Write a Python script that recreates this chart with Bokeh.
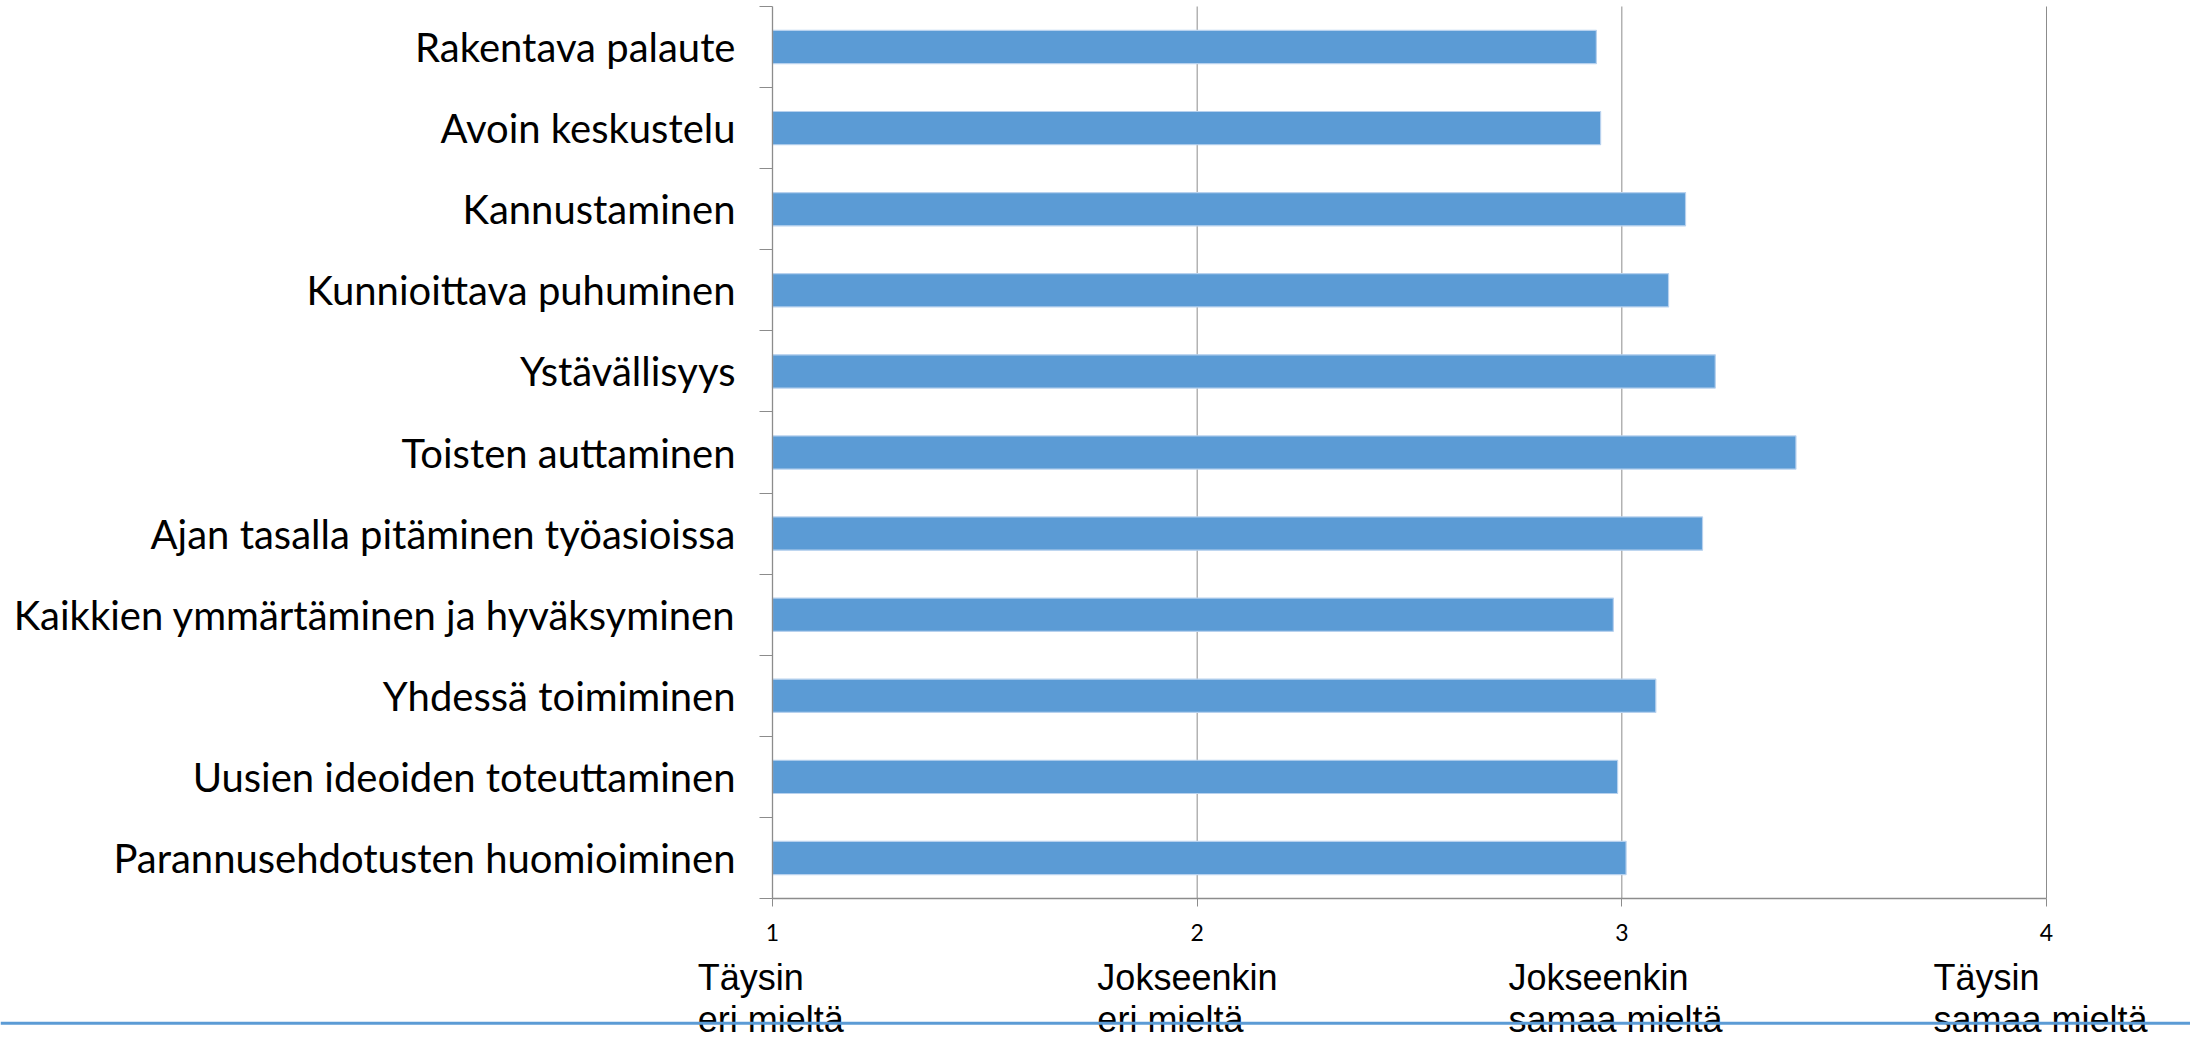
from bokeh.plotting import figure
from bokeh.models import Range1d, FixedTicker, Label, Span, ColumnDataSource, LinearAxis
from bokeh.embed import file_html
from bokeh.resources import INLINE

# ---- data ----
categories = [
    "Rakentava palaute",
    "Avoin keskustelu",
    "Kannustaminen",
    "Kunnioittava puhuminen",
    "Ystävällisyys",
    "Toisten auttaminen",
    "Ajan tasalla pitäminen työasioissa",
    "Kaikkien ymmärtäminen ja hyväksyminen",
    "Yhdessä toimiminen",
    "Uusien ideoiden toteuttaminen",
    "Parannusehdotusten huomioiminen",
]
values = [2.94, 2.95, 3.15, 3.11, 3.22, 3.41, 3.19, 2.98, 3.08, 2.99, 3.01]
x_ticks = [1, 2, 3, 4]
scale_labels = [
    ("Täysin", "eri mieltä"),
    ("Jokseenkin", "eri mieltä"),
    ("Jokseenkin", "samaa mieltä"),
    ("Täysin", "samaa mieltä"),
]

# ---- layout constants (pixels of the page) ----
n = len(categories)
centers = [i + 0.5 for i in range(n)]
bounds = list(range(n + 1))
label_x = [0.824, 1.765, 2.733, 3.734]

GRAY = "#8c8c8c"
BAR = "#5b9bd5"

W, H = 2190, 1040
FRAME_L, FRAME_R, FRAME_T, FRAME_B = 772, 2046, 6, 898

px_per_x = (FRAME_R - FRAME_L) / (x_ticks[-1] - x_ticks[0])
px_per_y = (FRAME_B - FRAME_T) / n
xmin = x_ticks[0] - FRAME_L / px_per_x
xmax = x_ticks[0] + (W - FRAME_L) / px_per_x
ytop = -FRAME_T / px_per_y
ybot = n + (H - FRAME_B) / px_per_y

def ypix(py):
    return (py - FRAME_T) / px_per_y

p = figure(
    width=W, height=H,
    x_range=Range1d(xmin, xmax), y_range=Range1d(ybot, ytop),
    output_backend="svg", toolbar_location=None,
    x_axis_location=None, y_axis_location=None,
    min_border_left=0, min_border_right=0, min_border_top=0, min_border_bottom=0,
)
p.outline_line_color = None
p.xgrid.visible = False
p.ygrid.visible = False

# vertical grid lines at the value ticks 2..4 (span the category area)
p.segment(x0=x_ticks[1:], x1=x_ticks[1:], y0=[0] * 3, y1=[n] * 3,
          line_color=GRAY, line_width=1)

src = ColumnDataSource(dict(y=centers, right=values, left=[x_ticks[0]] * n))
p.hbar(y="y", left="left", right="right", height=0.41, source=src,
       fill_color=BAR, line_color="#b7d1ee", line_width=1.2)

# y axis (categories), fixed at x = 1
ya = LinearAxis(fixed_location=x_ticks[0], bounds=(0, n))
ya.ticker = FixedTicker(ticks=centers, minor_ticks=bounds)
ya.major_label_overrides = {c: lab for c, lab in zip(centers, categories)}
ya.major_tick_out = 0
ya.major_tick_in = 0
ya.minor_tick_out = 13
ya.minor_tick_in = 0
ya.minor_tick_line_color = GRAY
ya.axis_line_color = GRAY
ya.axis_line_width = 1.3
ya.major_label_standoff = 24
ya.major_label_text_font = "Lato"
ya.major_label_text_font_size = "40px"
ya.major_label_text_color = "#000000"
p.add_layout(ya, "left")

# x axis (values), fixed at the bottom of the category area
xa = LinearAxis(fixed_location=n, bounds=(x_ticks[0], x_ticks[-1]))
xa.ticker = FixedTicker(ticks=x_ticks)
xa.major_tick_out = 8
xa.major_tick_in = 0
xa.major_tick_line_color = GRAY
xa.minor_tick_line_color = None
xa.axis_line_color = GRAY
xa.axis_line_width = 1.3
xa.major_label_standoff = 17
xa.major_label_text_font = "Lato"
xa.major_label_text_font_size = "23px"
xa.major_label_text_color = "#000000"
p.add_layout(xa, "below")

# scale descriptions under the value axis
for xx, (l1, l2) in zip(label_x, scale_labels):
    p.add_layout(Label(x=xx, y=ypix(977), text=l1, text_font="Liberation Sans",
                       text_font_size="36px", text_color="#000000",
                       text_baseline="alphabetic", text_align="left"))
    p.add_layout(Label(x=xx, y=ypix(1019), text=l2, text_font="Liberation Sans",
                       text_font_size="36px", text_color="#000000",
                       text_baseline="alphabetic", text_align="left"))

# decorative slide line
p.add_layout(Span(location=ypix(1022.7), dimension="width",
                  line_color=BAR, line_width=3))

open("out.html", "w").write(file_html(p, INLINE))
